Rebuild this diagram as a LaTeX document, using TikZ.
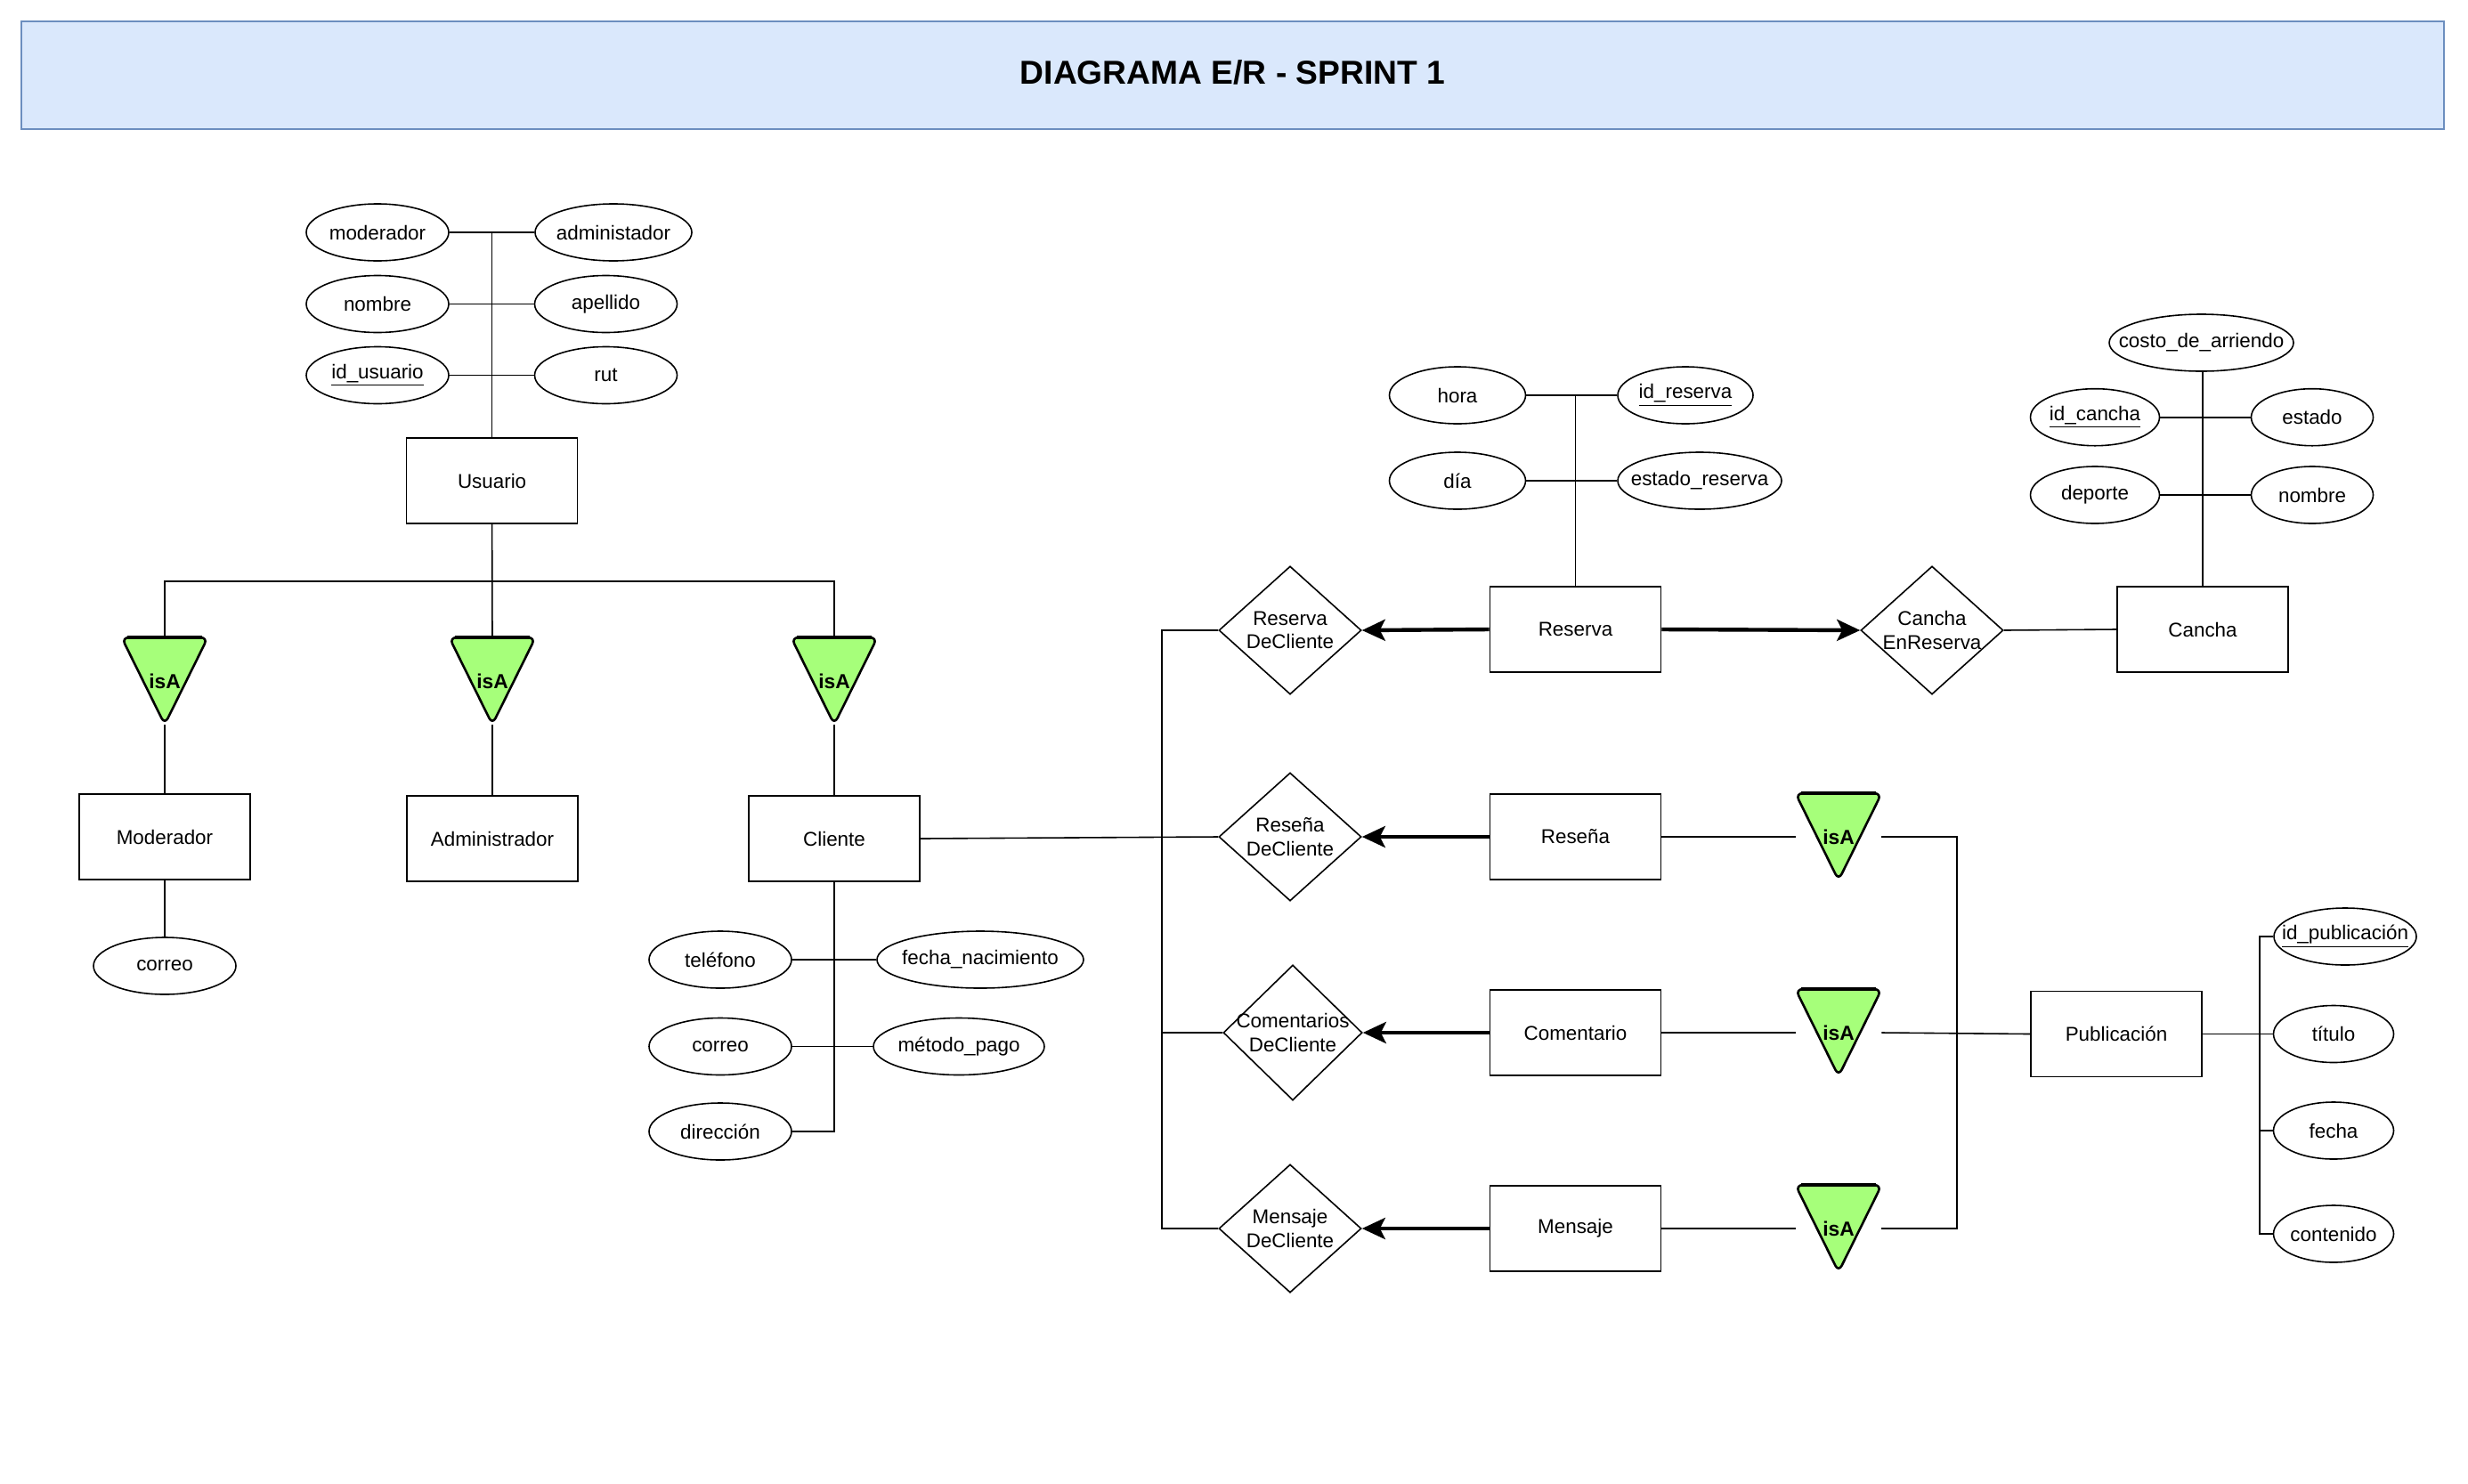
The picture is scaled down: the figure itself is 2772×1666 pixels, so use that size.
\documentclass[tikz,border=0pt]{standalone}
\usepackage{fontspec}
\setmainfont{Liberation Sans}
\usetikzlibrary{shapes.geometric,arrows.meta,backgrounds,calc}
\definecolor{isagreen}{HTML}{A6FF7A}
\definecolor{titlefill}{HTML}{DAE8FC}
\definecolor{titledraw}{HTML}{6C8EBF}
\begin{document}
\begin{tikzpicture}[x=0.5pt,y=-0.5pt,
  every node/.style={font=\fontsize{11.2}{13.3}\selectfont},
  ent/.style={draw, line width=0.8pt, minimum width=96pt, minimum height=48pt, inner sep=0pt},
  attr/.style={draw, ellipse, line width=0.8pt, minimum width=80pt, minimum height=32pt, inner xsep=-30pt, inner ysep=-20pt},
  rel/.style={draw, diamond, line width=0.8pt, minimum width=80pt, minimum height=72pt, inner xsep=-40pt, inner ysep=-30pt, align=center},
  isabox/.style={minimum width=48pt, minimum height=48.5pt, inner sep=0pt, font=\fontsize{11.4}{13.3}\selectfont\bfseries},
  isatri/.style={fill=isagreen, draw=black, line width=1.3pt, rounded corners=4pt, line join=round},
  con/.style={line width=0.8pt},
  thickarrow/.style={line width=2.2pt, -{Stealth[length=13pt,width=12pt,inset=3pt]}},
]
\useasboundingbox (0,0) rectangle (2772,1666);

% title
\node[draw=titledraw, fill=titlefill, line width=0.9pt, minimum width=1360.5pt, minimum height=60.5pt] (titlebar) at (1384.5,84.5) {};
\node[font=\fontsize{18.6}{22}\selectfont\bfseries, text depth=0pt] (title) at (1384.5,81) {DIAGRAMA E/R - SPRINT 1};

% Usuario
\node[ent] (usuario) at (552.6,540) {Usuario};
\node[attr] (aModerador) at (424,261) {moderador};
\node[attr, minimum width=88pt] (aAdministador) at (689,261) {administador};
\node[attr] (aNombreU) at (424,341.5) {nombre};
\node[attr] (aApellido) at (680.5,341.5) {apellido};
\node[attr] (aIdUsuario) at (424,421.5) {\underline{id\_usuario}};
\node[attr] (aRut) at (680.5,421.5) {rut};

% isA (left)
\node[isabox] (isaMod) at (185,765) {isA};
\node[isabox] (isaAdm) at (553,765) {isA};
\node[isabox] (isaCli) at (937,765) {isA};

% subtypes
\node[ent] (moderador) at (185,940) {Moderador};
\node[ent] (administrador) at (553,942) {Administrador};
\node[ent] (cliente) at (937,942) {Cliente};
\node[attr] (correoMod) at (185,1085) {correo};

% Cliente attributes
\node[attr] (telefono) at (809,1078) {teléfono};
\node[attr, minimum width=116pt] (fechaNac) at (1101,1078) {fecha\_nacimiento};
\node[attr] (correoCli) at (809,1175.5) {correo};
\node[attr, minimum width=96pt] (metodoPago) at (1077,1175.5) {método\_pago};
\node[attr] (direccion) at (809,1271) {dirección};

% relationships
\node[rel] (rResDC) at (1449,708) {Reserva\\DeCliente};
\node[rel] (rResenaDC) at (1449,940) {Reseña\\DeCliente};
\node[rel, minimum width=78pt, minimum height=76pt] (rComDC) at (1452,1160) {Comentarios\\DeCliente};
\node[rel] (rMenDC) at (1449,1380) {Mensaje\\DeCliente};
\node[rel] (rCanchaER) at (2170,708) {Cancha\\EnReserva};

% right entities
\node[ent] (reserva) at (1769.5,707) {Reserva};
\node[ent] (resena) at (1769.5,940) {Reseña};
\node[ent] (comentario) at (1769.5,1160) {Comentario};
\node[ent] (mensaje) at (1769.5,1380) {Mensaje};
\node[ent] (cancha) at (2474,707) {Cancha};
\node[ent] (publicacion) at (2377,1161.5) {Publicación};

% isA (right)
\node[isabox] (isaRes) at (2065,940) {isA};
\node[isabox] (isaCom) at (2065,1160) {isA};
\node[isabox] (isaMen) at (2065,1380) {isA};

% Reserva attributes
\node[attr, minimum width=76.5pt] (hora) at (1637,444) {hora};
\node[attr, minimum width=76pt] (idReserva) at (1893,444) {\underline{id\_reserva}};
\node[attr, minimum width=76.5pt] (dia) at (1637,540) {día};
\node[attr, minimum width=92pt] (estadoReserva) at (1909,540) {estado\_reserva};

% Cancha attributes
\node[attr, minimum width=103.5pt] (costo) at (2472.5,385) {costo\_de\_arriendo};
\node[attr, minimum width=72.5pt] (idCancha) at (2353,468.7) {\underline{id\_cancha}};
\node[attr, minimum width=68.5pt] (estado) at (2597,468.7) {estado};
\node[attr, minimum width=72.5pt] (deporte) at (2353,556) {deporte};
\node[attr, minimum width=68.5pt] (nombreC) at (2597,556) {nombre};

% Publicacion attributes
\node[attr] (idPub) at (2634,1052) {\underline{id\_publicación}};
\node[attr, minimum width=67.5pt] (titulo) at (2621,1161.5) {título};
\node[attr, minimum width=67.5pt] (fecha) at (2621,1270) {fecha};
\node[attr, minimum width=67.5pt] (contenido) at (2621,1386) {contenido};

% bus coordinates
\coordinate (ubus) at (553,653);
\coordinate (lbus) at (1305,0);
\coordinate (rbus) at (2198,0);
\coordinate (pbus) at (2538,0);

% isA triangles
\begin{scope}[on background layer]
\foreach \n in {isaMod,isaAdm,isaCli,isaRes,isaCom,isaMen}{
  \draw[isatri] (\n.north west) -- (\n.north east) -- (\n.south) -- cycle;
  \draw[line width=1.9pt] ($(\n.north west)+(6,0)$) -- ($(\n.north east)+(-6,0)$);
}
\end{scope}

% Usuario connectors
\draw[con] (aModerador.east) -- (aAdministador.west);
\draw[con] (aNombreU.east) -- (aApellido.west);
\draw[con] (aIdUsuario.east) -- (aRut.west);
\draw[con] (usuario.north) -- (usuario.north |- aModerador.east);
\draw[con] (usuario.south) -- (isaAdm.north);
\draw[con] (isaMod.north) |- (ubus) -| (isaCli.north);
\draw[con] (isaMod.south) -- (moderador.north);
\draw[con] (isaAdm.south) -- (administrador.north);
\draw[con] (isaCli.south) -- (cliente.north);
\draw[con] (moderador.south) -- (correoMod.north);

% Cliente connectors
\draw[con] (cliente.south) |- (direccion.east);
\draw[con] (telefono.east) -- (fechaNac.west);
\draw[con] (correoCli.east) -- (metodoPago.west);
\draw[con] (cliente.east) -- (rResenaDC.west);
\draw[con] (rResDC.west) -| (lbus |- rMenDC.west) -- (rMenDC.west);
\draw[con] (rComDC.west) -- (lbus |- rComDC.west);

% arrows
\draw[thickarrow] (reserva.west) -- (rResDC.east);
\draw[thickarrow] (reserva.east) -- (rCanchaER.west);
\draw[thickarrow] (resena.west) -- (rResenaDC.east);
\draw[thickarrow] (comentario.west) -- (rComDC.east);
\draw[thickarrow] (mensaje.west) -- (rMenDC.east);
\draw[con] (rCanchaER.east) -- (cancha.west);

% Reserva attributes
\draw[con] (hora.east) -- (idReserva.west);
\draw[con] (dia.east) -- (estadoReserva.west);
\draw[con] (reserva.north) -- (reserva.north |- hora.east);

% Cancha attributes
\draw[con] (cancha.north) -- (cancha.north |- costo.south);
\draw[con] (idCancha.east) -- (estado.west);
\draw[con] (deporte.east) -- (nombreC.west);

% Publicacion side
\draw[con] (resena.east) -- (isaRes.west);
\draw[con] (comentario.east) -- (isaCom.west);
\draw[con] (mensaje.east) -- (isaMen.west);
\draw[con] (isaRes.east) -| (rbus |- isaMen.east) -- (isaMen.east);
\draw[con] (isaCom.east) -- (publicacion.west);
\draw[con] (publicacion.east) -- (titulo.west);
\draw[con] (idPub.west) -| (pbus |- contenido.west) -- (contenido.west);
\draw[con] (fecha.west) -- (pbus |- fecha.west);
\end{tikzpicture}
\end{document}
